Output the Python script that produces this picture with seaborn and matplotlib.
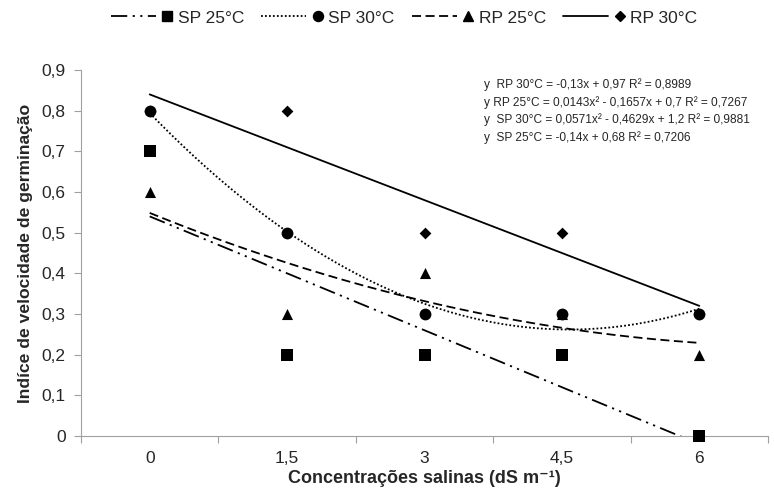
import numpy as np
import pandas as pd
import matplotlib
matplotlib.use("Agg")
import matplotlib.pyplot as plt
import seaborn as sns
from matplotlib.lines import Line2D
from matplotlib.legend_handler import HandlerLine2D

# data
concentracoes = ["0", "1,5", "3", "4,5", "6"]
sp25 = [0.7, 0.2, 0.2, 0.2, 0.0]
sp30 = [0.8, 0.5, 0.3, 0.3, 0.3]
rp25 = [0.6, 0.3, 0.4, 0.3, 0.2]
rp30 = [0.8, 0.8, 0.5, 0.5, 0.3]

# trend coefficients (Excel category index x = 1..5), highest power first
coef_sp25 = [-0.14, 0.68]
coef_sp30 = [0.0571, -0.4629, 1.2]
coef_rp25 = [0.0143, -0.1657, 0.7]
coef_rp30 = [-0.13, 0.97]

series = ["SP 25°C", "SP 30°C", "RP 25°C", "RP 30°C"]
values = [sp25, sp30, rp25, rp30]
coefs = [coef_sp25, coef_sp30, coef_rp25, coef_rp30]
markers = {"SP 25°C": "s", "SP 30°C": "o", "RP 25°C": "^", "RP 30°C": "D"}
msize = {"SP 25°C": 8, "SP 30°C": 8.5, "RP 25°C": 8, "RP 30°C": 6}
dashes = {"SP 25°C": (0, (9, 3, 1.2, 3, 1.2, 3)), "SP 30°C": (0, (1, 1.2)),
          "RP 25°C": (0, (5, 2.5)), "RP 30°C": "-"}

equations = [
    "y  RP 30°C = -0,13x + 0,97 R² = 0,8989",
    "y RP 25°C = 0,0143x² - 0,1657x + 0,7 R² = 0,7267",
    "y  SP 30°C = 0,0571x² - 0,4629x + 1,2 R² = 0,9881",
    "y  SP 25°C = -0,14x + 0,68 R² = 0,7206",
]

pts = pd.DataFrame({
    "pos": np.tile(np.arange(len(concentracoes)), len(series)),
    "valor": np.concatenate(values),
    "serie": np.repeat(series, len(concentracoes)),
})

xs = np.linspace(1, 5, 200)
trend = pd.DataFrame({
    "pos": np.tile(xs - 1, len(series)),
    "valor": np.concatenate([np.polyval(c, xs) for c in coefs]),
    "serie": np.repeat(series, len(xs)),
})


class LineThenMarker(HandlerLine2D):
    # excel style legend key: line segment, then the marker next to the label
    def __init__(self, ls, **kw):
        super().__init__(**kw)
        self.ls = ls

    def create_artists(self, legend, orig, xdescent, ydescent, width, height, fontsize, trans):
        y = height / 2 - ydescent
        x0 = -xdescent
        ln = Line2D([x0, x0 + width * 0.72], [y, y], color="black", lw=1.3, linestyle=self.ls)
        mk = Line2D([x0 + width * 0.9], [y], color="black", linestyle="none",
                    marker=orig.get_marker(), markersize=orig.get_markersize())
        for a in (ln, mk):
            a.set_transform(trans)
        return [ln, mk]


sns.set_style("white")
plt.rcParams["font.family"] = ["Liberation Sans", "DejaVu Sans"]

fig = plt.figure(figsize=(7.74, 4.93), dpi=100)
ax = fig.add_axes([81 / 774, 1 - 436 / 493, (768 - 81) / 774, (436 - 70) / 493])

for s in series:
    d = trend[trend.serie == s]
    sns.lineplot(data=d, x="pos", y="valor", ax=ax, color="black", lw=1.3,
                 linestyle=dashes[s], legend=False)

for s in series:
    d = pts[pts.serie == s]
    sns.scatterplot(data=d, x="pos", y="valor", ax=ax, marker=markers[s], color="black",
                    s=msize[s] ** 2, edgecolor="black", linewidth=0, legend=False,
                    clip_on=False, zorder=5)

ax.set_xlim(-0.5, len(concentracoes) - 0.5)
ax.set_ylim(0, 0.9)
ax.set_xticks(range(len(concentracoes)))
ax.set_xticklabels(concentracoes)
ax.set_xticks(np.arange(-0.5, len(concentracoes), 1), minor=True)
ax.tick_params(axis="x", which="major", length=0, pad=11, labelsize=12.5)
ax.tick_params(axis="x", which="minor", length=5, color="#a0a0a0", width=0.8, direction="out")
ax.set_yticks(np.arange(0, 0.91, 0.1))
ax.set_yticklabels([f"{v:.1f}".replace(".", ",") if v > 0 else "0" for v in np.arange(0, 0.91, 0.1)])
ax.tick_params(axis="y", length=5, color="#a0a0a0", width=0.8, direction="out", labelsize=12.5, pad=6)
ax.tick_params(bottom=True, left=True, which="both")

for side in ["top", "right"]:
    ax.spines[side].set_visible(False)
for side in ["left", "bottom"]:
    ax.spines[side].set_color("#a0a0a0")
    ax.spines[side].set_linewidth(0.8)

ax.set_xlabel("Concentrações salinas (dS m⁻¹)", fontsize=13, fontweight="bold", labelpad=3)
ax.set_ylabel("Indíce de velocidade de germinação", fontsize=12.6, fontweight="bold", labelpad=6)

for i, eq in enumerate(equations):
    fig.text(484 / 774, 1 - (85 + 17.4 * i) / 493, eq, fontsize=8.6, va="center", ha="left")

handles = [Line2D([], [], linestyle="-", marker=markers[s], markersize=msize[s] * 0.85)
           for s in series]
hmap = {h: LineThenMarker(dashes[s]) for h, s in zip(handles, series)}
fig.legend(handles, series, loc="center", bbox_to_anchor=(404 / 774, 1 - 18 / 493), ncol=4,
           frameon=False, fontsize=12.5, handlelength=3.6, columnspacing=1.0, handletextpad=0.25,
           handler_map=hmap)

fig.savefig("out.png", dpi=100)
